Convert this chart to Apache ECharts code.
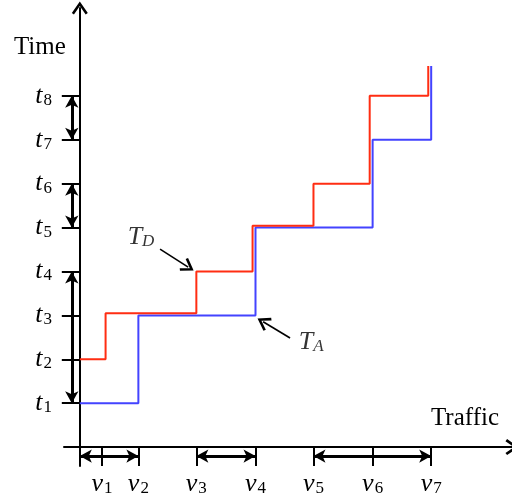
<!DOCTYPE html>
<html>
<head>
<meta charset="utf-8">
<script src="https://cdn.jsdelivr.net/npm/echarts@6/dist/echarts.min.js"></script>
<style>
html, body { margin: 0; padding: 0; background: #fff; }
#chart { width: 512px; height: 496px; }
</style>
</head>
<body>
<div id="chart"></div>
<script>
// tick positions (axis units)
const nuValues = [0.38, 1, 1.99, 3, 3.99, 5, 6];
const tValues = [1, 2, 3, 4, 5, 6, 7, 8];

// T_A (blue) and T_D (red) staircases, [traffic, time]
const arrivalSteps = [[0, 1], [1, 1], [1, 3], [3, 3], [3, 5], [5, 5], [5, 7], [6, 7], [6, 8.68]];
const departureSteps = [[0, 2], [0.44, 2], [0.44, 3.05], [1.99, 3.05], [1.99, 4], [2.95, 4], [2.95, 5.04],
  [3.99, 5.04], [3.99, 6], [4.95, 6], [4.95, 8], [5.95, 8], [5.95, 8.68]];

// double arrows along the axes: [from, to]
const timeSpans = [[8, 7], [6, 5], [4, 1]];
const trafficSpans = [[0, 1], [1.99, 3], [3.99, 6]];

// curve labels and their pointer arrows: [x, y]
const curveLabels = [
  { text: 'D', pos: [1.045, 4.785] },
  { text: 'A', pos: [3.95, 2.393] }
];
const pointerArrows = [
  [[1.37, 4.51], [1.85, 4.10]],
  [[3.59, 2.485], [3.13, 2.855]]
];

const SERIF = '"Liberation Serif", "DejaVu Serif", serif';
const chevron = 'path://M0,0L6,8.6L4.4,9.8L0,3.4L-4.4,9.8L-6,8.6Z';
const subRich = {
  i: { fontFamily: SERIF, fontStyle: 'italic', fontSize: 26, color: '#000' },
  s: { fontFamily: SERIF, fontSize: 17, color: '#000', padding: [9, 0, 0, 1] },
  si: { fontFamily: SERIF, fontStyle: 'italic', fontSize: 17, color: '#000', padding: [9, 0, 0, 0] }
};

const chart = echarts.init(document.getElementById('chart'));
chart.setOption({
  animation: false,
  grid: { left: 64, right: 0, top: 8, bottom: 30, outerBoundsMode: 'none' },
  xAxis: {
    type: 'value', min: -0.27, max: 7.38,
    name: 'Traffic', nameLocation: 'end', nameGap: -13,
    nameTextStyle: { fontFamily: SERIF, fontSize: 25, color: '#000', align: 'right', verticalAlign: 'bottom', padding: [0, 0, 16, 0] },
    splitLine: { show: false },
    axisLine: { onZero: true, lineStyle: { color: '#000', width: 2 }, symbol: ['none', chevron], symbolSize: [16, 14] },
    axisTick: { show: true, length: 19, customValues: nuValues, lineStyle: { color: '#000', width: 2 } },
    // labels sit relative to the grid edge, not the zero line
    axisLabel: {
      customValues: nuValues, margin: 5,
      formatter: v => '{i|ν}{s|' + (nuValues.indexOf(v) + 1) + '}',
      rich: subRich
    }
  },
  yAxis: {
    type: 'value', min: -0.43, max: 10,
    name: 'Time', nameLocation: 'end', nameGap: -39,
    nameTextStyle: { fontFamily: SERIF, fontSize: 25, color: '#000', align: 'right', verticalAlign: 'middle', padding: [0, 14, 0, 0] },
    splitLine: { show: false },
    axisLine: { onZero: true, lineStyle: { color: '#000', width: 2 }, symbol: ['none', chevron], symbolSize: [16, 14] },
    axisTick: { show: true, length: 18, customValues: tValues, lineStyle: { color: '#000', width: 2 } },
    axisLabel: {
      customValues: tValues, margin: 12,
      formatter: v => '{i|t}{s|' + (tValues.indexOf(v) + 1) + '}',
      rich: subRich
    }
  },
  series: [
    {
      name: 'T_A', type: 'line', data: arrivalSteps, showSymbol: false, silent: true,
      lineStyle: { color: '#4343ff', width: 2 }
    },
    {
      name: 'T_D', type: 'line', data: departureSteps, showSymbol: false, silent: true,
      lineStyle: { color: '#ff2d12', width: 2 }
    },
    {
      name: 'spans', type: 'line', data: [], silent: true,
      markLine: {
        silent: true, animation: false,
        symbol: ['arrow', 'arrow'], symbolSize: [10, 12],
        label: { show: false },
        lineStyle: { type: 'solid', color: '#000', width: 3 },
        data: timeSpans.map(s => [{ coord: [-0.137, s[0]] }, { coord: [-0.137, s[1]] }])
          .concat(trafficSpans.map(s => [{ coord: [s[0], -0.205] }, { coord: [s[1], -0.205] }]))
      }
    },
    {
      name: 'pointers', type: 'line', data: [], silent: true,
      markLine: {
        silent: true, animation: false,
        symbol: ['none', chevron], symbolSize: [15, 13],
        label: { show: false },
        lineStyle: { type: 'solid', color: '#000', width: 1.6 },
        data: pointerArrows.map(a => [{ coord: a[0] }, { coord: a[1] }])
      }
    },
    {
      name: 'labels', type: 'scatter', symbolSize: 0, silent: true,
      data: curveLabels.map(l => ({ value: l.pos, name: l.text })),
      label: {
        show: true, position: 'inside',
        formatter: p => '{i|T}{si|' + p.name + '}',
        rich: subRich
      }
    }
  ]
});
</script>
</body>
</html>
